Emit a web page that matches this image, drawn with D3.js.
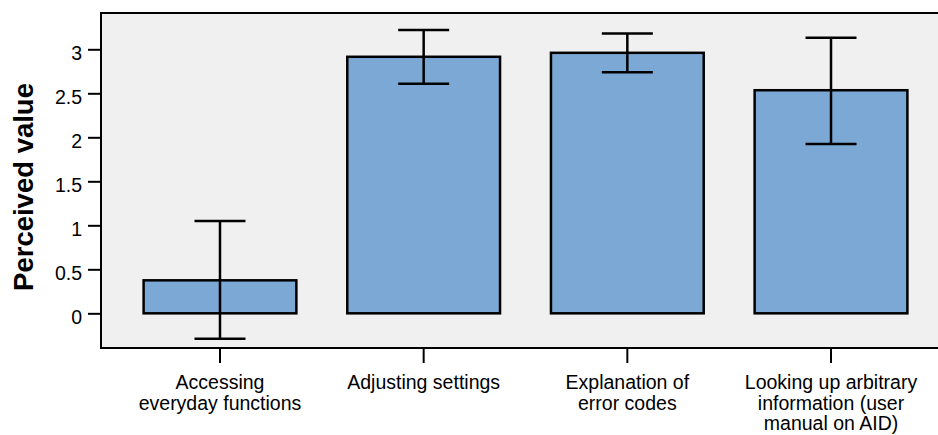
<!DOCTYPE html>
<html>
<head>
<meta charset="utf-8">
<script src="https://cdn.jsdelivr.net/npm/d3@7"></script>
<style>
  html, body { margin: 0; padding: 0; background: #fff; }
  svg { display: block; }
  text { font-family: "Liberation Sans", Arial, sans-serif; fill: #000; }
</style>
</head>
<body>
<svg id="chart" width="938" height="435"></svg>
<script>
// Mean perceived value per use case, with error-bar limits
const categories = [
  ["Accessing", "everyday functions"],
  ["Adjusting settings"],
  ["Explanation of", "error codes"],
  ["Looking up arbitrary", "information (user", "manual on AID)"]
];
const means = [0.375, 2.915, 2.96, 2.535];
const errLow = [-0.29, 2.61, 2.74, 1.925];
const errHigh = [1.05, 3.22, 3.18, 3.13];
const yTicks = [0, 0.5, 1, 1.5, 2, 2.5, 3];
const yTickLabels = ["0", "0.5", "1", "1.5", "2", "2.5", "3"];

const svg = d3.select("#chart");
const plot = { left: 101, top: 13, right: 950, bottom: 348 };

const keys = categories.map((c, i) => i);
const x = d3.scaleBand()
  .domain(keys)
  .range([118.15, 932.85])
  .paddingInner(0.25)
  .paddingOuter(0.125);

const y = d3.scaleLinear()
  .domain([-0.394, 3.4125])
  .range([plot.bottom, plot.top]);

// plot background
svg.append("rect")
  .attr("x", plot.left).attr("y", plot.top)
  .attr("width", plot.right - plot.left)
  .attr("height", plot.bottom - plot.top)
  .attr("fill", "#f0f0f0");

// bars
svg.append("g").selectAll("rect")
  .data(keys)
  .join("rect")
  .attr("x", i => x(i))
  .attr("width", x.bandwidth())
  .attr("y", i => y(Math.max(0, means[i])))
  .attr("height", i => Math.abs(y(0) - y(means[i])))
  .attr("fill", "#7ba8d5")
  .attr("stroke", "#000")
  .attr("stroke-width", 2.5);

// error bars
const cap = 51;
const eb = svg.append("g").attr("stroke", "#000").attr("stroke-width", 2.5);
keys.forEach(i => {
  const cx = x(i) + x.bandwidth() / 2;
  eb.append("line").attr("x1", cx).attr("x2", cx)
    .attr("y1", y(errLow[i])).attr("y2", y(errHigh[i]));
  eb.append("line").attr("x1", cx - cap / 2).attr("x2", cx + cap / 2)
    .attr("y1", y(errHigh[i])).attr("y2", y(errHigh[i]));
  eb.append("line").attr("x1", cx - cap / 2).attr("x2", cx + cap / 2)
    .attr("y1", y(errLow[i])).attr("y2", y(errLow[i]));
});

// frame: top, left, bottom
svg.append("path")
  .attr("d", `M${plot.right},${plot.top}H${plot.left}V${plot.bottom}H${plot.right}`)
  .attr("fill", "none")
  .attr("stroke", "#000")
  .attr("stroke-width", 2);

// y axis
const yAxis = svg.append("g")
  .attr("transform", `translate(${plot.left},0)`)
  .call(d3.axisLeft(y)
    .tickValues(yTicks)
    .tickFormat((d, i) => yTickLabels[i])
    .tickSize(13)
    .tickPadding(6));
yAxis.select(".domain").remove();
yAxis.selectAll(".tick line").attr("stroke", "#000").attr("stroke-width", 2);
yAxis.selectAll(".tick text")
  .attr("dy", "0.5em")
  .style("font-size", "19.5px")
  .style("font-family", "'Liberation Sans', Arial, sans-serif")
  .attr("fill", "#000");

// x axis
const xAxis = svg.append("g")
  .attr("transform", `translate(0,${plot.bottom})`)
  .call(d3.axisBottom(x).tickSize(15).tickFormat(""));
xAxis.select(".domain").remove();
xAxis.selectAll(".tick line").attr("stroke", "#000").attr("stroke-width", 2);

// x category labels (multi-line)
const labels = svg.append("g");
keys.forEach(i => {
  const cx = x(i) + x.bandwidth() / 2;
  const t = labels.append("text")
    .attr("text-anchor", "middle")
    .style("font-size", "19.5px");
  categories[i].forEach((line, j) => {
    t.append("tspan").attr("x", cx).attr("y", 389 + j * 20.5).text(line);
  });
});

// y axis title
svg.append("text")
  .attr("transform", `translate(33,187) rotate(-90)`)
  .attr("text-anchor", "middle")
  .style("font-size", "27.5px")
  .style("font-weight", "bold")
  .text("Perceived value");
</script>
</body>
</html>
